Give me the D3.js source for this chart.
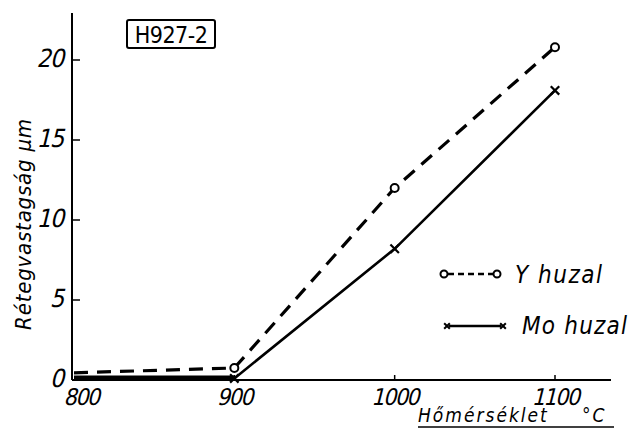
<!DOCTYPE html>
<html>
<head>
<meta charset="utf-8">
<script src="https://cdn.jsdelivr.net/npm/d3@7"></script>
<style>
  body { margin: 0; background: #fff; }
  svg text { font-family: "DejaVu Sans Condensed", "DejaVu Sans", sans-serif; font-style: italic; fill: #000; }
</style>
</head>
<body>
<svg width="632" height="447"></svg>
<script>
// data
var temps = [800, 900, 1000, 1100];
var yHuzal = [0.45, 0.75, 12.0, 20.8];
var moHuzal = [0.1, 0.1, 8.2, 18.1];
var xTicks = [800, 900, 1000, 1100];
var yTicks = [0, 5, 10, 15, 20];

var svg = d3.select('svg');

var x = d3.scaleLinear().domain([800, 1100]).range([74, 555]);
var y = d3.scaleLinear().domain([0, 20]).range([380, 60]);

// axes
svg.append('line')
    .attr('x1', 72).attr('x2', 72)
    .attr('y1', 13).attr('y2', y(0))
    .attr('stroke', '#000').attr('stroke-width', 2);
svg.append('line')
    .attr('x1', 72).attr('x2', 611)
    .attr('y1', y(0)).attr('y2', y(0))
    .attr('stroke', '#000').attr('stroke-width', 1.8);

// y ticks + labels (skewed to look like the slanted stencil digits)
svg.selectAll('.ytick')
    .data(yTicks.filter(d => d > 0))
    .enter().append('line')
    .attr('x1', 72).attr('x2', 80)
    .attr('y1', d => y(d)).attr('y2', d => y(d))
    .attr('stroke', '#000').attr('stroke-width', 1.5);
svg.selectAll('.ylab')
    .data(yTicks)
    .enter().append('text')
    .attr('transform', d => 'translate(63,' + (y(d) + 7) + ') skewX(-14)')
    .attr('text-anchor', 'end')
    .attr('font-size', 25)
    .attr('letter-spacing', -1)
    .style('font-style', 'normal')
    .text(d => d);

// x ticks + labels
svg.selectAll('.xtick')
    .data(xTicks.filter(d => d > 800))
    .enter().append('line')
    .attr('x1', d => x(d)).attr('x2', d => x(d))
    .attr('y1', y(0)).attr('y2', y(0) - 5)
    .attr('stroke', '#000').attr('stroke-width', 1.5);
svg.selectAll('.xlab')
    .data(xTicks)
    .enter().append('text')
    .attr('transform', (d, i) => 'translate(' + (x(d) + (i === 0 ? 7 : 0)) + ',405) skewX(-14)')
    .attr('text-anchor', 'middle')
    .attr('font-size', 23)
    .attr('letter-spacing', -1.5)
    .style('font-style', 'normal')
    .text(d => d);

// axis titles
svg.append('text')
    .attr('transform', 'translate(31,224) rotate(-90)')
    .attr('text-anchor', 'middle')
    .attr('font-size', 22)
    .attr('letter-spacing', 0.8)
    .text('Rétegvastagság  µm');

svg.append('text')
    .attr('x', 418).attr('y', 422)
    .attr('font-size', 19)
    .attr('letter-spacing', 2)
    .text('Hőmérséklet');
svg.append('text')
    .attr('x', 582).attr('y', 422)
    .attr('font-size', 19)
    .attr('letter-spacing', 2)
    .text('°C');
svg.append('line')
    .attr('x1', 418).attr('x2', 614)
    .attr('y1', 427).attr('y2', 427)
    .attr('stroke', '#000').attr('stroke-width', 1.5);

// sample label box
svg.append('rect')
    .attr('x', 127).attr('y', 20)
    .attr('width', 88).attr('height', 28)
    .attr('fill', 'none').attr('stroke', '#000').attr('stroke-width', 2)
    .attr('rx', 2);
svg.append('text')
    .attr('x', 171).attr('y', 43)
    .attr('text-anchor', 'middle')
    .attr('font-size', 23)
    .attr('letter-spacing', -0.5)
    .style('font-style', 'normal')
    .text('H927-2');

// series
var line = d3.line()
    .x((d, i) => x(temps[i]))
    .y(d => y(d));

svg.append('path')
    .datum(moHuzal)
    .attr('d', line)
    .attr('fill', 'none')
    .attr('stroke', '#000')
    .attr('stroke-width', 2.6);

// thick near-zero band for the Mo line between 800 and 900
svg.append('line')
    .attr('x1', x(temps[0])).attr('x2', x(temps[1]))
    .attr('y1', y(moHuzal[0]) - 1).attr('y2', y(moHuzal[1]) - 1)
    .attr('stroke', '#000').attr('stroke-width', 4);

svg.append('path')
    .datum(yHuzal)
    .attr('d', line)
    .attr('fill', 'none')
    .attr('stroke', '#000')
    .attr('stroke-width', 3.2)
    .attr('stroke-dasharray', '14,9');

svg.selectAll('.ycirc')
    .data(yHuzal.slice(1))
    .enter().append('circle')
    .attr('cx', (d, i) => x(temps[i + 1]))
    .attr('cy', d => y(d))
    .attr('r', 4)
    .attr('fill', '#fff')
    .attr('stroke', '#000')
    .attr('stroke-width', 2);

svg.selectAll('.mox')
    .data(moHuzal.slice(1))
    .enter().append('path')
    .attr('transform', (d, i) => 'translate(' + x(temps[i + 1]) + ',' + y(d) + ') rotate(45)')
    .attr('d', 'M-6,0H6M0,-6V6')
    .attr('stroke', '#000')
    .attr('stroke-width', 2.2);

// legend
var lg = svg.append('g');
lg.append('line')
    .attr('x1', 448).attr('x2', 493)
    .attr('y1', 274).attr('y2', 274)
    .attr('stroke', '#000').attr('stroke-width', 2.5)
    .attr('stroke-dasharray', '6,4');
lg.selectAll('.lc')
    .data([444, 497])
    .enter().append('circle')
    .attr('cx', d => d).attr('cy', 274).attr('r', 3.5)
    .attr('fill', '#fff').attr('stroke', '#000').attr('stroke-width', 2);
lg.append('text')
    .attr('x', 515).attr('y', 283)
    .attr('font-size', 24)
    .attr('letter-spacing', 1.5)
    .text('Y huzal');

lg.append('line')
    .attr('x1', 449).attr('x2', 501)
    .attr('y1', 326).attr('y2', 326)
    .attr('stroke', '#000').attr('stroke-width', 2.5);
lg.selectAll('.lx')
    .data([447, 503])
    .enter().append('path')
    .attr('transform', d => 'translate(' + d + ',326) rotate(45)')
    .attr('d', 'M-4,0H4M0,-4V4')
    .attr('stroke', '#000').attr('stroke-width', 2);
lg.append('text')
    .attr('x', 522).attr('y', 334)
    .attr('font-size', 24)
    .attr('letter-spacing', 1.2)
    .text('Mo huzal');
</script>
</body>
</html>
